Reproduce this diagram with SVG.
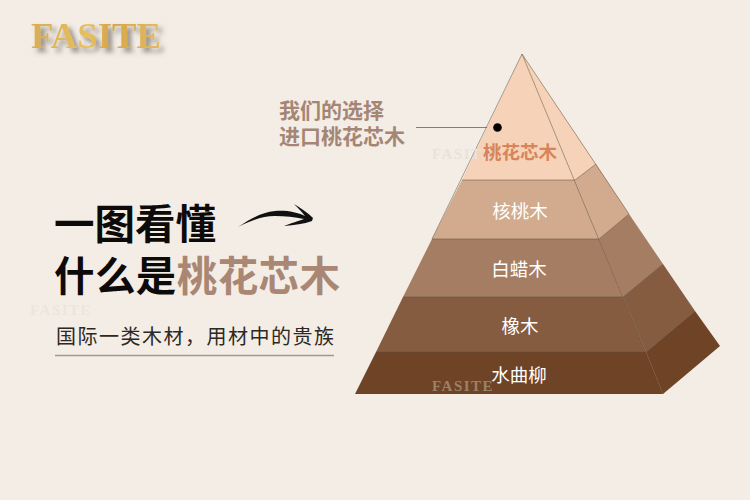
<svg xmlns="http://www.w3.org/2000/svg" width="750" height="500" viewBox="0 0 750 500">
<style>
.cjk{font-family:"Noto Sans CJK SC","Noto Sans",sans-serif}
.t{font-size:18.500px;fill:#fff;text-anchor:middle}
.h{font-size:40.500px;font-weight:700;fill:#0d0b09}
.n{font-size:21px;font-weight:700;fill:#a58675}
.w{font-family:"Liberation Serif",serif;font-weight:700;font-size:15px;letter-spacing:1.5px}
.e{stroke:#5f5040;stroke-width:.7;stroke-opacity:.75;fill:none}
</style>
<defs>
<linearGradient id="g" x1="0" y1="0" x2="1" y2="0"><stop offset="0" stop-color="#d9ad52"/><stop offset=".45" stop-color="#e8c060"/><stop offset=".6" stop-color="#d6a548"/><stop offset="1" stop-color="#e3bb62"/></linearGradient>
<filter id="s" x="-20%" y="-40%" width="150%" height="200%"><feDropShadow dx="4" dy="4" stdDeviation="2.500" flood-color="#5a5348" flood-opacity=".65"/></filter>
</defs>
<rect width="750" height="500" fill="#f3ede6"/>
<g id="logo"><text x="31" y="48" font-family="Liberation Serif,serif" font-weight="700" font-size="36" textLength="130" lengthAdjust="spacingAndGlyphs" fill="url(#g)" filter="url(#s)">FASITE</text></g>
<g id="watermark-left"><text x="30" y="315" class="w" fill="#ebe5dd">FASITE</text></g>
<g id="headline">
<text x="54" y="239" class="cjk h" textLength="162">一图看懂</text>
<text x="54" y="291" class="cjk h" textLength="286">什么是<tspan fill="#a98774">桃花芯木</tspan></text>
<text x="56" y="344" class="cjk" font-size="20" fill="#2c2925" textLength="278">国际一类木材，用材中的贵族</text>
<line x1="55" y1="355.500" x2="334" y2="355.500" stroke="#a3978e" stroke-width="1.500"/>
<path d="M238 227C250 219 262 212 275 211C286 210 297 212 305 216C302 212 298 208 294 204C301 208 308 213 313 218L312 221C304 224 294 225 284 226C291 223 299 221 304 219C295 217 285 216 275 216C262 216 250 221 238 227Z" fill="#111"/>
</g>
<g id="callout">
<text x="279" y="118" class="cjk n">我们的选择</text>
<text x="279" y="144" class="cjk n">进口桃花芯木</text>
</g>
<g id="connectors"><line x1="416" y1="127.500" x2="497" y2="127.500" stroke="#8a7d72" stroke-width="1.200"/></g>
<g id="layer-1">
<path d="M522 54L462 180H575Z" fill="#f6d3b8"/>
<path d="M522 54L596 164L575 180Z" fill="#f6d3b8"/>
</g>
<g id="layer-2">
<path d="M462 180H575L599 239H432Z" fill="#d2aa8d"/>
<path d="M575 180L596 164L629 214L599 239Z" fill="#d2aa8d"/>
</g>
<g id="layer-3">
<path d="M432 239H599L623 297H403Z" fill="#a57d62"/>
<path d="M599 239L629 214L663 264L623 297Z" fill="#a57d62"/>
</g>
<g id="layer-4">
<path d="M403 297H623L646 352H376Z" fill="#855c3f"/>
<path d="M623 297L663 264L695 311L646 352Z" fill="#855c3f"/>
</g>
<g id="layer-5">
<path d="M376 352H646L663 394H355Z" fill="#6f4326"/>
<path d="M646 352L695 311L720 346L663 394Z" fill="#6f4326"/>
</g>
<g id="edges">
<path class="e" d="M462 180H575L596 164M432 239H599L629 214M403 297H623L663 264M376 352H646L695 311"/>
<path class="e" d="M522 54L663 394M522 54L432 239M522 54L629 214"/>
</g>
<g id="marker"><circle cx="497.500" cy="127.500" r="4.300" fill="#000"/></g>
<g id="labels">
<text x="432" y="159" class="w" fill="#e9e2da">FASITE</text>
<text x="520" y="159" class="cjk" font-size="18.500" font-weight="700" fill="#d8845a" text-anchor="middle">桃花芯木</text>
<text x="520" y="218" class="cjk t">核桃木</text>
<text x="519" y="276" class="cjk t">白蜡木</text>
<text x="520" y="333" class="cjk t">橡木</text>
<text x="432" y="391" class="w" fill="#9a8268">FASITE</text>
<text x="519" y="382" class="cjk t">水曲柳</text>
</g>
</svg>
